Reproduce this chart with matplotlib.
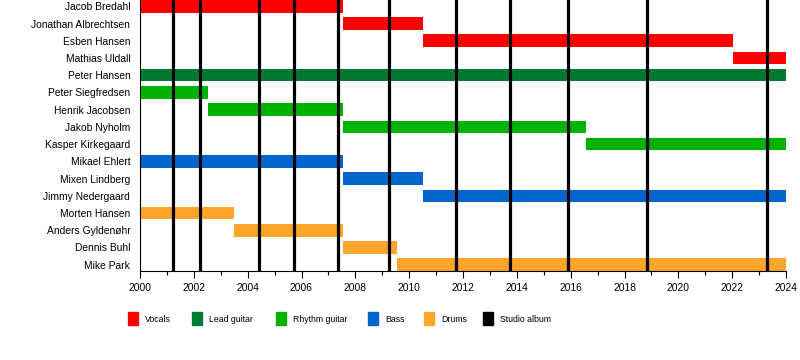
import matplotlib.pyplot as plt
from matplotlib.patches import Rectangle

plt.rcParams['font.family'] = ['Liberation Sans', 'DejaVu Sans']

members = ["Jacob Bredahl", "Jonathan Albrechtsen", "Esben Hansen", "Mathias Uldall",
           "Peter Hansen", "Peter Siegfredsen", "Henrik Jacobsen", "Jakob Nyholm",
           "Kasper Kirkegaard", "Mikael Ehlert", "Mixen Lindberg", "Jimmy Nedergaard",
           "Morten Hansen", "Anders Gyldenøhr", "Dennis Buhl", "Mike Park"]
starts = [2000.0, 2007.53, 2010.53, 2022.04,
          2000.0, 2000.0, 2002.51, 2007.53,
          2016.56, 2000.0, 2007.53, 2010.53,
          2000.0, 2003.51, 2007.53, 2009.53]
ends = [2007.53, 2010.53, 2022.04, 2024.0,
        2024.0, 2002.51, 2007.53, 2016.56,
        2024.0, 2007.53, 2010.53, 2024.0,
        2003.51, 2007.53, 2009.53, 2024.0]
roles = ["Vocals", "Vocals", "Vocals", "Vocals",
         "Lead guitar", "Rhythm guitar", "Rhythm guitar", "Rhythm guitar",
         "Rhythm guitar", "Bass", "Bass", "Bass",
         "Drums", "Drums", "Drums", "Drums"]
albums = [2001.24, 2002.23, 2004.43, 2005.73, 2007.34, 2009.26,
          2011.74, 2013.74, 2015.91, 2018.85, 2023.28]

role_colors = {"Vocals": "#ff0000", "Lead guitar": "#007a33", "Rhythm guitar": "#00b300",
               "Bass": "#0066cc", "Drums": "#ffa52a", "Studio album": "#000000"}

fig = plt.figure(figsize=(8, 3.6), dpi=100)
ax = fig.add_axes([140/800, 1 - 271/360, 646/800, 271/360])

bar_h = 0.73
for i, name in enumerate(members):
    ax.barh(i, ends[i] - starts[i], left=starts[i], height=bar_h,
            color=role_colors[roles[i]], zorder=1)

for a in albums:
    ax.axvline(a, color="black", lw=2.3, zorder=2)

ax.set_xlim(2000, 2024)
ax.set_ylim(len(members) - 1 + bar_h/2, -bar_h/2)
ax.set_yticks(range(len(members)))
ax.set_yticklabels(members, fontsize=7.4)
ax.tick_params(axis="y", length=0, pad=7)
ax.set_xticks(range(2000, 2025, 2))
ax.set_xticks(range(2000, 2025), minor=True)
ax.tick_params(axis="x", labelsize=7.4, length=5, width=0.8)
ax.tick_params(axis="x", which="minor", length=3, width=0.8)
ax.spines["top"].set_visible(False)
ax.spines["right"].set_visible(False)

# legend drawn by hand
legend_x = [128, 192, 276, 368, 424, 483]
for x, (label, col) in zip(legend_x, role_colors.items()):
    fig.patches.append(Rectangle((x/800, 1 - 325/360), 10/800, 13/360,
                                 color=col, transform=fig.transFigure))
    fig.text((x + 17)/800, 1 - 320/360, label, fontsize=6.3, va="center", ha="left")

fig.savefig("out.png", dpi=100)
